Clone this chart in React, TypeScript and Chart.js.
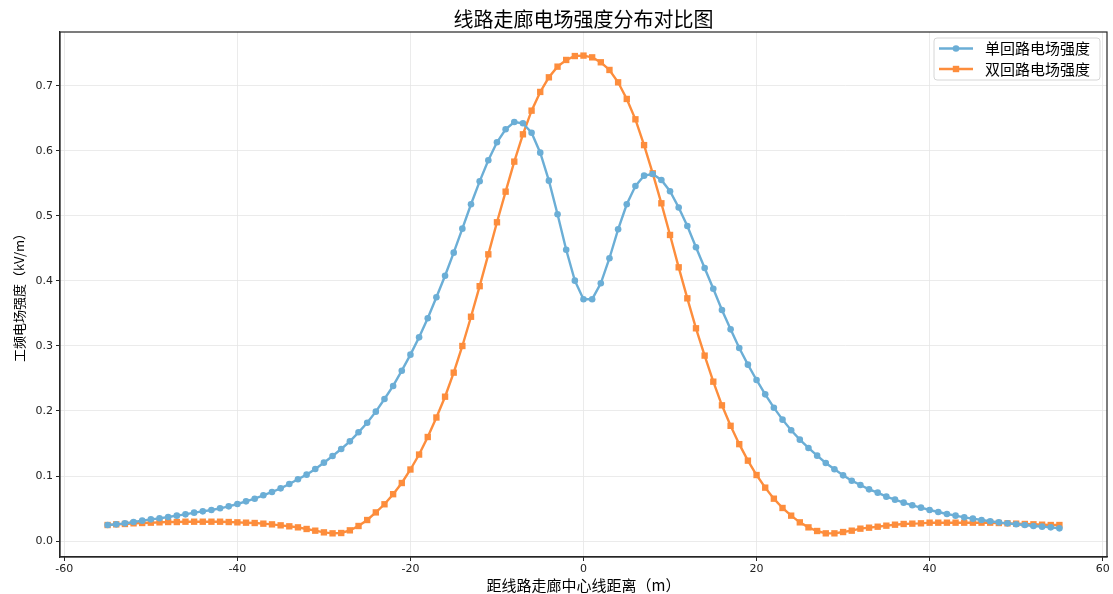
import { useEffect, useRef } from "react";
import { Chart, registerables } from "chart.js";

Chart.register(...registerables);

const chartTitle = "线路走廊电场强度分布对比图";
const xAxisTitle = "距线路走廊中心线距离（m）";
const yAxisTitle = "工频电场强度（kV/m）";
const seriesNames = ["单回路电场强度", "双回路电场强度"];

const distances = [
  -55, -54, -53, -52, -51, -50, -49, -48, -47, -46, -45, -44, -43, -42, -41,
  -40, -39, -38, -37, -36, -35, -34, -33, -32, -31, -30, -29, -28, -27, -26,
  -25, -24, -23, -22, -21, -20, -19, -18, -17, -16, -15, -14, -13, -12, -11,
  -10, -9, -8, -7, -6, -5, -4, -3, -2, -1, 0, 1, 2, 3, 4, 5, 6, 7, 8, 9, 10,
  11, 12, 13, 14, 15, 16, 17, 18, 19, 20, 21, 22, 23, 24, 25, 26, 27, 28, 29,
  30, 31, 32, 33, 34, 35, 36, 37, 38, 39, 40, 41, 42, 43, 44, 45, 46, 47, 48,
  49, 50, 51, 52, 53, 54, 55,
];

const singleCircuit = [
  0.0246, 0.0256, 0.0272, 0.0292, 0.0313, 0.0333, 0.0349, 0.0369, 0.039, 0.041,
  0.0436, 0.0456, 0.0477, 0.0503, 0.0533, 0.0569, 0.061, 0.0651, 0.0703, 0.0754,
  0.081, 0.0877, 0.0949, 0.1021, 0.1108, 0.1205, 0.1308, 0.1415, 0.1533, 0.1672,
  0.182, 0.199, 0.2185, 0.2385, 0.262, 0.2867, 0.3133, 0.3426, 0.3749, 0.408,
  0.4436, 0.4805, 0.518, 0.5533, 0.5856, 0.6133, 0.6333, 0.6446, 0.6426, 0.628,
  0.5974, 0.5543, 0.5026, 0.448, 0.4005, 0.372, 0.372, 0.3964, 0.435, 0.4795,
  0.518, 0.546, 0.562, 0.5646, 0.5554, 0.538, 0.513, 0.4846, 0.4518, 0.42,
  0.388, 0.3554, 0.3256, 0.297, 0.2713, 0.2477, 0.2256, 0.2051, 0.1867, 0.1703,
  0.1559, 0.1431, 0.1313, 0.12, 0.1103, 0.101, 0.0928, 0.0862, 0.0795, 0.0744,
  0.0682, 0.0636, 0.059, 0.0549, 0.0513, 0.0477, 0.0446, 0.0415, 0.039, 0.0364,
  0.0344, 0.0323, 0.0303, 0.0287, 0.0272, 0.0257, 0.0246, 0.0231, 0.0221, 0.021,
  0.0195,
];

const doubleCircuit = [
  0.0246, 0.0256, 0.0262, 0.0272, 0.0277, 0.0282, 0.0287, 0.0292, 0.0292, 0.0297,
  0.0297, 0.0297, 0.0297, 0.0297, 0.0292, 0.0287, 0.0282, 0.0277, 0.0267, 0.0256,
  0.0241, 0.0226, 0.021, 0.0185, 0.0159, 0.0133, 0.0118, 0.0123, 0.0164, 0.0231,
  0.0323, 0.044, 0.0565, 0.072, 0.0892, 0.11, 0.133, 0.16, 0.19, 0.222,
  0.259, 0.3, 0.345, 0.392, 0.441, 0.4903, 0.5374, 0.5836, 0.6256, 0.662,
  0.6908, 0.7133, 0.7297, 0.74, 0.746, 0.7467, 0.744, 0.7364, 0.7246, 0.7056,
  0.68, 0.6487, 0.609, 0.5656, 0.5195, 0.4708, 0.421, 0.3733, 0.3272, 0.2852,
  0.2451, 0.2087, 0.1772, 0.149, 0.1236, 0.1015, 0.0821, 0.0651, 0.0508, 0.039,
  0.0287, 0.021, 0.0154, 0.0118, 0.0118, 0.0138, 0.0159, 0.019, 0.0205, 0.022,
  0.0236, 0.0251, 0.0262, 0.0267, 0.0272, 0.0282, 0.0282, 0.0282, 0.0282, 0.0282,
  0.0282, 0.0282, 0.0282, 0.0277, 0.0272, 0.0267, 0.0262, 0.0257, 0.0251, 0.0246,
  0.0246,
];

const xTickValues = [-60, -40, -20, 0, 20, 40, 60];
const yTickValues = [0, 0.1, 0.2, 0.3, 0.4, 0.5, 0.6, 0.7];

const BLUE = "#6baed6";
const ORANGE = "#fd8d3c";
const CJK = '"Noto Sans CJK SC", "Noto Sans", sans-serif';

const decorPlugin = {
  id: "decor",
  afterDraw(chart: any) {
    const { ctx, chartArea: a } = chart;
    ctx.save();
    // frame
    ctx.strokeStyle = "#262626";
    ctx.lineWidth = 1.2;
    ctx.strokeRect(a.left, a.top, a.right - a.left, a.bottom - a.top);
    // title
    ctx.fillStyle = "#000";
    ctx.font = `20px ${CJK}`;
    ctx.textAlign = "center";
    ctx.textBaseline = "middle";
    ctx.fillText(chartTitle, (a.left + a.right) / 2, 19);
    // legend
    const bx = 934, by = 38, bw = 166, bh = 42;
    ctx.beginPath();
    ctx.roundRect(bx, by, bw, bh, 3);
    ctx.fillStyle = "rgba(255,255,255,0.85)";
    ctx.fill();
    ctx.strokeStyle = "#d6d6d6";
    ctx.lineWidth = 1;
    ctx.stroke();
    const rows = [48.5, 69];
    chart.data.datasets.forEach((ds: any, i: number) => {
      const y = rows[i];
      ctx.strokeStyle = ds.borderColor;
      ctx.lineWidth = 2.4;
      ctx.beginPath();
      ctx.moveTo(939, y);
      ctx.lineTo(973, y);
      ctx.stroke();
      ctx.fillStyle = ds.borderColor;
      if (ds.pointStyle === "rect") {
        ctx.fillRect(956 - 3.2, y - 3.2, 6.4, 6.4);
      } else {
        ctx.beginPath();
        ctx.arc(956, y, 3.3, 0, Math.PI * 2);
        ctx.fill();
      }
      ctx.fillStyle = "#000";
      ctx.font = `15px ${CJK}`;
      ctx.textAlign = "left";
      ctx.textBaseline = "middle";
      ctx.fillText(ds.label, 985, y);
    });
    ctx.restore();
  },
};

export default function App() {
  const canvasRef = useRef<HTMLCanvasElement | null>(null);

  useEffect(() => {
    if (!canvasRef.current) return;
    const chart = new Chart(canvasRef.current, {
      type: "line",
      data: {
        datasets: [
          {
            label: seriesNames[0],
            data: distances.map((d, i) => ({ x: d, y: singleCircuit[i] })),
            borderColor: BLUE,
            backgroundColor: BLUE,
            borderWidth: 2.4,
            pointStyle: "circle",
            pointRadius: 3.3,
            pointBorderWidth: 0,
            tension: 0,
          },
          {
            label: seriesNames[1],
            data: distances.map((d, i) => ({ x: d, y: doubleCircuit[i] })),
            borderColor: ORANGE,
            backgroundColor: ORANGE,
            borderWidth: 2.4,
            pointStyle: "rect",
            pointRadius: 4.5,
            pointBorderWidth: 0,
            tension: 0,
          },
        ],
      },
      options: {
        animation: false,
        responsive: true,
        maintainAspectRatio: false,
        layout: { padding: { top: 32, right: 6, left: 0, bottom: 0 } },
        plugins: {
          legend: { display: false },
          title: { display: false },
          tooltip: { enabled: false },
        },
        scales: {
          x: {
            type: "linear",
            min: -60.5,
            max: 60.5,
            afterFit: (s: any) => {
              s.height = 37;
            },
            afterBuildTicks: (s: any) => {
              s.ticks = xTickValues.map((v) => ({ value: v }));
            },
            grid: {
              color: "#e6e6e6",
              lineWidth: 0.8,
              drawTicks: true,
              tickLength: 4,
              tickColor: "#262626",
              tickWidth: 1,
            },
            border: { display: true, color: "#262626", width: 1.2 },
            ticks: {
              font: { family: "DejaVu Sans", size: 11 },
              color: "#222",
              padding: 2,
              maxRotation: 0,
              callback: (v: any) => String(v),
            },
            title: {
              display: true,
              text: xAxisTitle,
              font: { family: CJK, size: 15 },
              color: "#000",
              padding: { top: 0, bottom: 0 },
            },
          },
          y: {
            type: "linear",
            min: -0.0246,
            max: 0.783,
            afterFit: (s: any) => {
              s.width = 60;
            },
            afterBuildTicks: (s: any) => {
              s.ticks = yTickValues.map((v) => ({ value: v }));
            },
            grid: {
              color: "#e6e6e6",
              lineWidth: 0.8,
              drawTicks: true,
              tickLength: 4,
              tickColor: "#262626",
              tickWidth: 1,
            },
            border: { display: true, color: "#262626", width: 1.2 },
            ticks: {
              font: { family: "DejaVu Sans", size: 11 },
              color: "#222",
              padding: 3,
              callback: (v: any) => Number(v).toFixed(1),
            },
            title: {
              display: true,
              text: yAxisTitle,
              font: { family: CJK, size: 13 },
              color: "#000",
              padding: { top: 11, bottom: 0 },
            },
          },
        },
      },
      plugins: [decorPlugin],
    });
    return () => chart.destroy();
  }, []);

  return (
    <div
      style={{
        position: "absolute",
        left: 0,
        top: 0,
        width: 1113,
        height: 594,
        background: "#fff",
      }}
    >
      <canvas ref={canvasRef} />
    </div>
  );
}
